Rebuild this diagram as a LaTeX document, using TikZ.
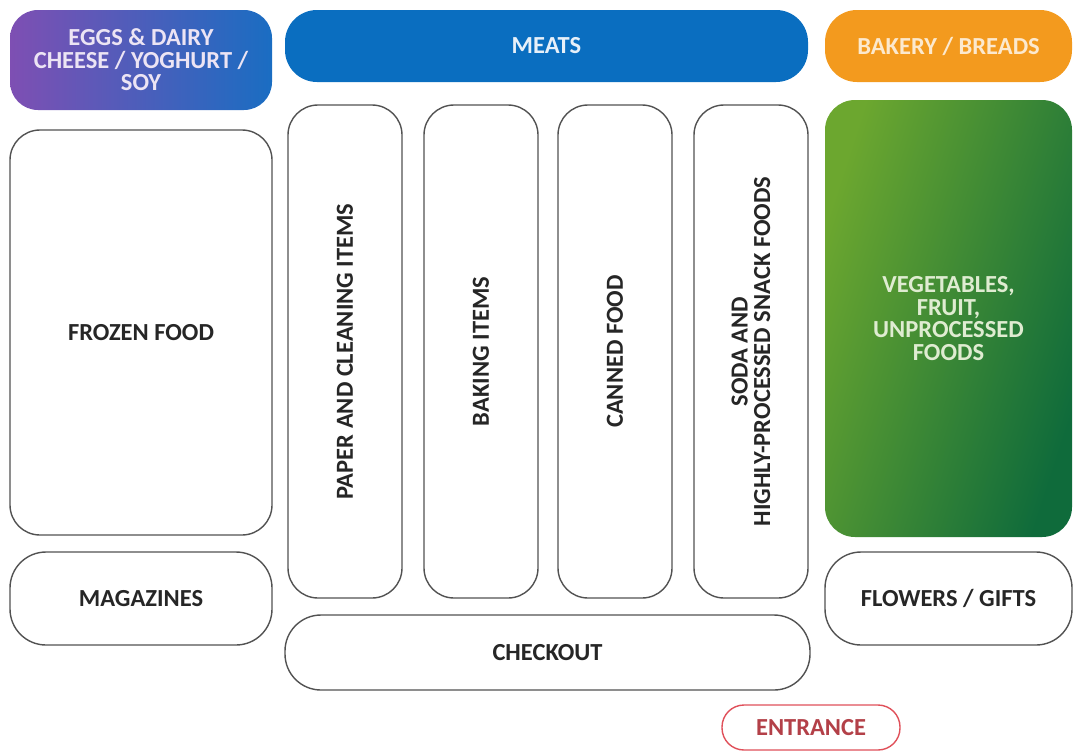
\documentclass[tikz,border=0pt]{standalone}
\usepackage{fontspec}
\setmainfont{Carlito}
\begin{document}
\begin{tikzpicture}[x=1pt,y=-1pt,
  lbl/.style={font=\bfseries\fontsize{24.5}{22.5}\selectfont, align=center},
  box/.style={draw=black!68, line width=1.4pt, fill=white, rounded corners=#1, lbl, text=black!85, inner sep=0pt},
  box/.default=30pt,
  solid/.style={rounded corners=#1, lbl, inner sep=0pt, draw=none},
  solid/.default=30pt]
\useasboundingbox (0,0) rectangle (1075,753);
\definecolor{purp}{HTML}{7E4FB3}
\definecolor{blu}{HTML}{1A6DC2}
\definecolor{meat}{HTML}{0A6EC0}
\definecolor{orng}{HTML}{F39A1E}
\definecolor{lgreen}{HTML}{6CA72F}
\definecolor{dgreen}{HTML}{0F6B3B}
\definecolor{entr}{HTML}{E0505A}
% top row
\node[solid=28pt, left color=purp, right color=blu, minimum width=262pt, minimum height=100pt, text=white!85!purp] (eggs) at (141,60) {EGGS \& DAIRY\\CHEESE / YOGHURT /\\SOY};
\node[solid=32pt, fill=meat, minimum width=523pt, minimum height=72pt, text=white!90!meat] (meats) at (546.5,46) {MEATS};
\node[solid=32pt, fill=orng, minimum width=247pt, minimum height=72pt, text=white!78!orng] (bakery) at (948.5,46) {BAKERY / BREADS};
% left column
\node[box=30pt, minimum width=262pt, minimum height=405pt] (frozen) at (141,332.5) {FROZEN FOOD};
\node[box=36pt, minimum width=262pt, minimum height=93pt] (mags) at (141,598.5) {MAGAZINES};
% aisles
\node[box=30pt, minimum width=114pt, minimum height=493pt] (paper) at (345,351.5) {};
\node[lbl, rotate=90, text=black!85] (paperT) at (paper.center) {PAPER AND CLEANING ITEMS};
\node[box=30pt, minimum width=114pt, minimum height=493pt] (baking) at (481,351.5) {};
\node[lbl, rotate=90, text=black!85] (bakingT) at (baking.center) {BAKING ITEMS};
\node[box=30pt, minimum width=114pt, minimum height=493pt] (canned) at (615,351.5) {};
\node[lbl, rotate=90, text=black!85] (cannedT) at (canned.center) {CANNED FOOD};
\node[box=30pt, minimum width=114pt, minimum height=493pt] (soda) at (751,351.5) {};
\node[lbl, rotate=90, text=black!85] (sodaT) at (soda.center) {SODA AND\\HIGHLY-PROCESSED SNACK FOODS};
\node[box=36pt, minimum width=525pt, minimum height=75pt] (checkout) at (547.5,652.5) {CHECKOUT};
% right column
\node[solid=30pt, left color=lgreen, right color=dgreen, shading angle=72, minimum width=247pt, minimum height=437pt, text=white!78!lgreen] (veg) at (948.5,318.5) {VEGETABLES,\\FRUIT,\\UNPROCESSED\\FOODS};
\node[box=36pt, minimum width=247pt, minimum height=93pt] (flowers) at (948.5,598.5) {FLOWERS / GIFTS};
% entrance
\node[draw=entr, line width=1.4pt, fill=white, rounded corners=22pt, minimum width=178pt, minimum height=45pt, lbl, text=entr!80!black, inner sep=0pt] (entrance) at (811,727.5) {ENTRANCE};
\end{tikzpicture}
\end{document}
